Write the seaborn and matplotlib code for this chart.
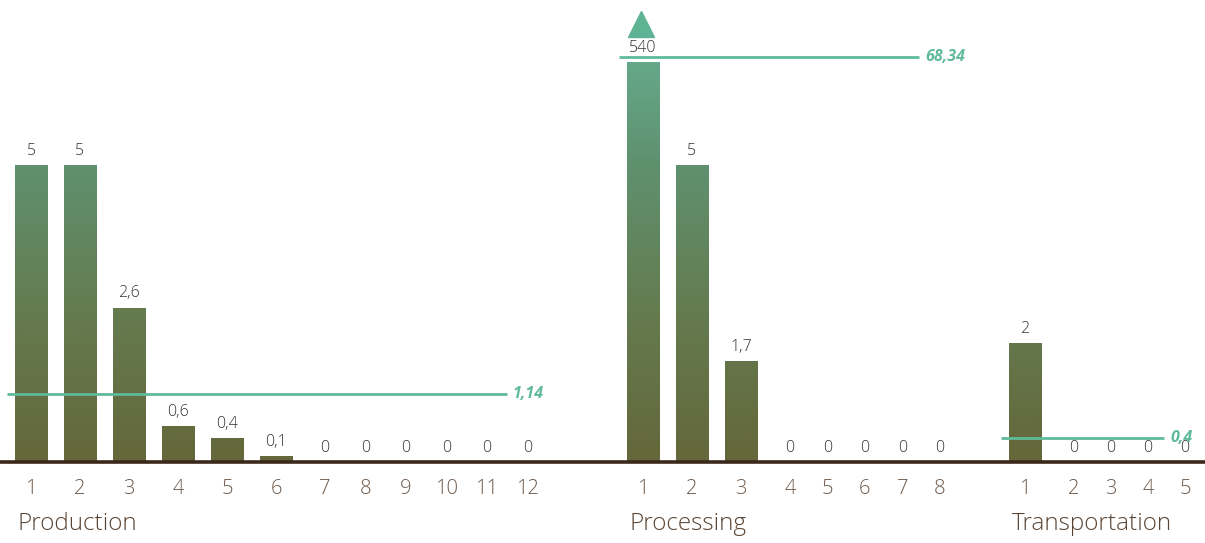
import numpy as np
import pandas as pd
import matplotlib
matplotlib.use("Agg")
import matplotlib.pyplot as plt
import matplotlib.transforms as mtransforms
from matplotlib.colors import LinearSegmentedColormap
import seaborn as sns

# ---------------- data ----------------
groups = ["Production", "Processing", "Transportation"]
production = [5, 5, 2.6, 0.6, 0.4, 0.1, 0, 0, 0, 0, 0, 0]
processing = [540, 5, 1.7, 0, 0, 0, 0, 0]
transportation = [2, 0, 0, 0, 0]
averages = [1.14, 68.34, 0.4]
series = [production, processing, transportation]

# ---------------- layout / style ----------------
W, H = 1205, 543
BASE_PX = 81            # axis line height from bottom (px)
PX_PER_UNIT = 59.4
GROUP_START = [31, 643, 1025]
STEP_AFTER_BAR = 49
STEP_AFTER_ZERO = [40.5, 37.5, 37]
BAR_W = 33
BAR_CAP = 6.73          # broken-axis cap for very tall bars
LINE_CAP = 6.82

TEAL = "#5fba9a"
TICK_C = "#6e5a4b"
GROUP_C = "#5a4534"
AXIS_C = "#3b281b"
VAL_C = "#333333"

sns.set_theme(style="white")
plt.rcParams["font.family"] = ["Open Sans", "DejaVu Sans"]

# positions
rows = []
for g, vals, start, zstep in zip(groups, series, GROUP_START, STEP_AFTER_ZERO):
    x = start
    for i, v in enumerate(vals):
        rows.append(dict(group=g, idx=i + 1, value=v, pos=x,
                         disp=min(v, BAR_CAP)))
        x += STEP_AFTER_BAR if v > 0 else zstep
df = pd.DataFrame(rows)

fig = plt.figure(figsize=(W / 100, H / 100), dpi=100)
ax = fig.add_axes([0, BASE_PX / H, 1, (H - BASE_PX) / H])
ax.set_facecolor("white")

sns.barplot(data=df, x="pos", y="disp", native_scale=True, errorbar=None,
            color="#5f8a60", ax=ax, width=0.85)

ax.set_xlim(0, W)
ymax = (H - BASE_PX) / PX_PER_UNIT
ax.set_ylim(0, ymax)

# gradient fill clipped to each bar
cmap = LinearSegmentedColormap.from_list(
    "g", [(0.0, "#64673a"), (0.38, "#647c50"), (0.74, "#5f916f"),
          (1.0, "#66a98b")])
grad = np.linspace(0, 1, 256).reshape(-1, 1)
for p in list(ax.patches):
    cx = p.get_x() + p.get_width() / 2
    p.set_x(cx - BAR_W / 2)
    p.set_width(BAR_W)
    p.set_facecolor("none")
    p.set_edgecolor("none")
    if p.get_height() <= 0:
        continue
    im = ax.imshow(grad, cmap=cmap, origin="lower", aspect="auto",
                   extent=[0, W, 0, 6.8], zorder=2, interpolation="bicubic")
    im.set_clip_path(p)
ax.set_xlim(0, W)
ax.set_ylim(0, ymax)

# value labels
for _, r in df.iterrows():
    txt = f"{r.value:g}".replace(".", ",")
    ax.annotate(txt, (r.pos, r.disp), xytext=(0, 4.5), textcoords="offset points",
                ha="center", va="bottom", fontsize=11.5, color=VAL_C,
                fontweight="light", zorder=4)

# broken-bar marker
for _, r in df[df.value > BAR_CAP].iterrows():
    ax.plot([r.pos - 2], [7.37], marker="^", ms=19, color="#5db394",
            clip_on=False, zorder=4)

# average lines
for g, avg in zip(groups, averages):
    sub = df[df.group == g]
    x0 = sub.pos.iloc[0] - BAR_W / 2 - 8
    x1 = sub.pos.iloc[-1] - 21
    y = min(avg, LINE_CAP)
    ax.plot([x0, x1], [y, y], color=TEAL, lw=2, zorder=3, solid_capstyle="butt")
    ax.text(x1 + 6, y, f"{avg:g}".replace(".", ","), color=TEAL,
            fontsize=11.5, fontweight="bold", fontstyle="italic",
            ha="left", va="center", zorder=4)

# axis
for s in ["top", "right", "left"]:
    ax.spines[s].set_visible(False)
ax.spines["bottom"].set_color(AXIS_C)
ax.spines["bottom"].set_linewidth(2.6)
ax.set_yticks([])
ax.set_xticks(df.pos.values, [str(i) for i in df.idx])
ax.tick_params(axis="x", length=0, pad=12.5, labelsize=14.5, labelcolor=TICK_C)
for lab in ax.get_xticklabels():
    lab.set_fontweight("light")
ax.set_xlabel("")
ax.set_ylabel("")

# group labels
trans = mtransforms.blended_transform_factory(ax.transData, ax.transAxes)
for g, start in zip(groups, GROUP_START):
    ax.text(start - 13, -62 / (H - BASE_PX), g, transform=trans,
            ha="left", va="center", fontsize=17.5, color=GROUP_C,
            fontweight="light", clip_on=False)

fig.savefig("out.png", dpi=100, facecolor="white")
